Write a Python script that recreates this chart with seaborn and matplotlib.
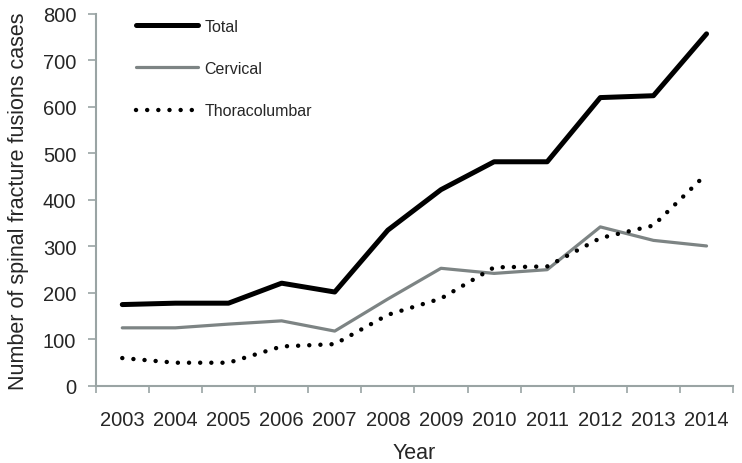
import pandas as pd
import matplotlib.pyplot as plt
import seaborn as sns

# values
years = ["2003", "2004", "2005", "2006", "2007", "2008",
         "2009", "2010", "2011", "2012", "2013", "2014"]
total = [175, 178, 178, 221, 202, 335, 422, 482, 482, 620, 624, 757]
cervical = [125, 125, 133, 140, 118, 187, 253, 242, 250, 342, 313, 301]
thoracolumbar = [60, 50, 50, 85, 90, 153, 188, 255, 257, 318, 345, 456]

sns.set_theme(style="white")
plt.rcParams['font.family'] = ['Liberation Sans', 'DejaVu Sans']

df = pd.DataFrame({
    "pos": list(range(len(years))) * 3,
    "cases": total + cervical + thoracolumbar,
    "series": ["Total"] * 12 + ["Cervical"] * 12 + ["Thoracolumbar"] * 12,
})

fig = plt.figure(figsize=(7.42, 4.64), dpi=100)
ax = fig.add_axes([0.129, 0.166, 0.859, 0.802])

styles = {
    "Total": dict(color="black", linewidth=3.6, linestyle="-"),
    "Cervical": dict(color="#7d8484", linewidth=2.3, linestyle="-"),
    "Thoracolumbar": dict(color="black", linewidth=3.2, linestyle=(0, (0.01, 2.5)),
                          dash_capstyle="round"),
}
for name in ["Total", "Cervical", "Thoracolumbar"]:
    sub = df[df["series"] == name]
    sns.lineplot(data=sub, x="pos", y="cases", ax=ax, label=name, **styles[name])

ax.set_xlim(-0.5, 11.5)
ax.set_ylim(0, 800)
ax.set_yticks(range(0, 801, 100))
ax.set_xticks(range(len(years)))
ax.set_xticklabels(years)
ax.set_xticks([i - 0.5 for i in range(len(years) + 1)], minor=True)

spine_col = "#9aa4a4"
for s in ["top", "right"]:
    ax.spines[s].set_visible(False)
for s in ["left", "bottom"]:
    ax.spines[s].set_color(spine_col)
    ax.spines[s].set_linewidth(1.5)

ax.tick_params(axis="y", which="major", direction="out", length=6, width=1.2,
               color=spine_col, pad=8, labelsize=14.5, left=True)
ax.tick_params(axis="x", which="major", length=0, pad=17, labelsize=14.5)
ax.tick_params(axis="x", which="minor", direction="out", length=5, width=1.2,
               color=spine_col, bottom=True)

ax.set_xlabel("Year", fontsize=15.5, labelpad=10)
ax.set_ylabel("Number of spinal fracture fusions cases", fontsize=15.5, labelpad=10)

leg = ax.legend(loc="upper left", bbox_to_anchor=(0.04, 1.025), frameon=False,
                fontsize=11.5, handlelength=3.9, handletextpad=0.4, labelspacing=1.7)

plt.savefig("out.png", dpi=100)
